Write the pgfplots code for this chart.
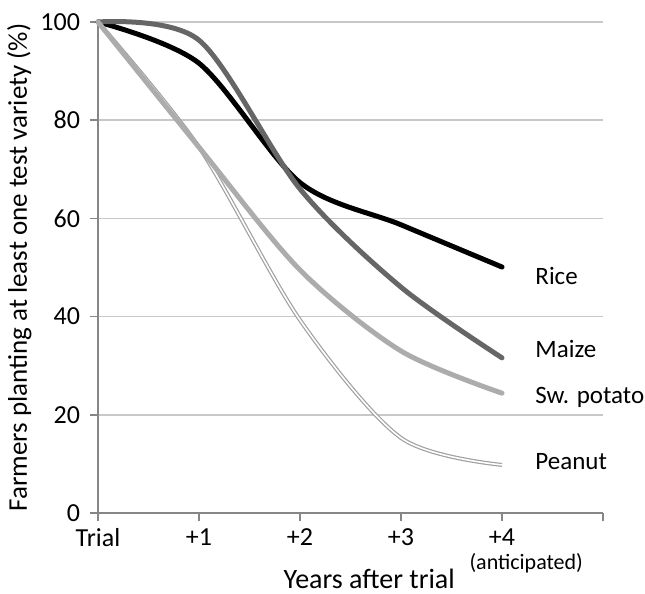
\documentclass[border=0pt]{standalone}
\usepackage{pgfplots}
\pgfplotsset{compat=1.18}
\usepackage{fontspec}
\setmainfont{Carlito}

\definecolor{axisgray}{RGB}{134,134,134}
\definecolor{gridgray}{RGB}{200,200,200}
\definecolor{maizegray}{RGB}{102,102,102}
\definecolor{potatogray}{RGB}{172,172,172}
\definecolor{peanutgray}{RGB}{160,160,160}

\begin{document}
\begin{tikzpicture}[font=\fontsize{13}{15}\selectfont]
  \begin{axis}[
      scale only axis,
      width=252.5pt, height=245.5pt,
      xmin=0, xmax=5,
      ymin=0, ymax=100,
      xtick={0,1,2,3,4,5},
      xticklabels={Trial,+1,+2,+3,+4,},
      ytick={0,20,40,60,80,100},
      /pgf/number format/assume math mode=true,
      axis x line*=bottom,
      axis y line*=left,
      axis line style={draw=axisgray, line width=0.75pt},
      tick style={draw=axisgray, line width=0.75pt},
      tick align=outside,
      major tick length=4pt,
      xticklabel shift=0.5pt,
      xticklabel style={inner sep=3pt},
      yticklabel shift=1.5pt,
      ymajorgrids,
      grid style={draw=gridgray, line width=0.75pt},
      xlabel={Years after trial},
      ylabel={Farmers planting at least one test variety (\%)},
      xlabel style={at={(axis description cs:0.537,-0.1344)}, anchor=center,
        inner sep=0pt, font=\fontsize{14}{16}\selectfont},
      ylabel style={at={(axis description cs:-0.156,0.5)}, anchor=center,
        inner sep=0pt, font=\fontsize{13.5}{16}\selectfont},
      clip=false,
    ]
    % rice
    \addplot[black, line width=2.5pt, smooth, line cap=round] coordinates {
      (0,100) (1,91.6) (2,67.3) (3,58.7) (4,50.1)
    };
    % maize
    \addplot[maizegray, line width=2.5pt, smooth, line cap=round] coordinates {
      (0,100) (1,96.3) (2,66) (3,46) (4,31.6)
    };
    % peanut
    \addplot[peanutgray, line width=0.6pt, double=white, double distance=0.8pt, smooth] coordinates {
      (0,100) (1,74.5) (2,39.3) (3,15.3) (4,9.8)
    };
    % sweet potato
    \addplot[potatogray, line width=2.5pt, smooth, line cap=round] coordinates {
      (0,100) (1,74.5) (2,49.5) (3,33) (4,24.4)
    };

    \begin{scope}[font=\fontsize{12.5}{15}\selectfont]
      \node[anchor=west, inner sep=0pt] at (axis cs:4.327,48.3) {Rice};
      \node[anchor=west, inner sep=0pt] at (axis cs:4.327,33.4) {Maize};
      \node[anchor=west, inner sep=0pt] at (axis cs:4.327,23.6) {Sw. potato};
      \node[anchor=west, inner sep=0pt] at (axis cs:4.327,10.4) {Peanut};
    \end{scope}
    \node[inner sep=0pt, font=\fontsize{11}{13}\selectfont] at (axis description cs:0.848,-0.102) {(anticipated)};

    \coordinate (bl) at (rel axis cs:0,0);
    \coordinate (tr) at (rel axis cs:1,1);
  \end{axis}
  \pgfresetboundingbox
  \path ([shift={(-49pt,-40pt)}]bl) rectangle ([shift={(21pt,11pt)}]tr);
\end{tikzpicture}
\end{document}
